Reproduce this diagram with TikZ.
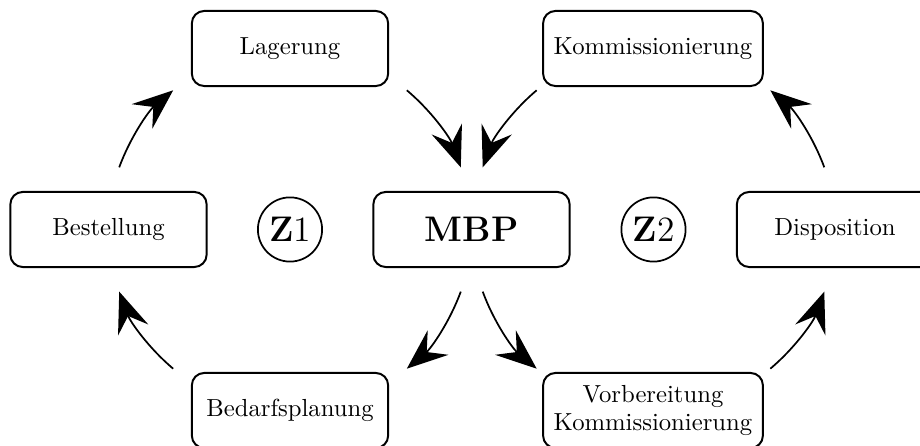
\documentclass[tikz,border=0pt]{standalone}
\usetikzlibrary{arrows.meta,calc}
\begin{document}
\begin{tikzpicture}[x=0.405pt,y=0.405pt,
  box/.style={draw,line width=0.8pt,rounded corners=5pt,minimum width=79.5pt,minimum height=30.4pt,inner xsep=4.3pt,align=center,font=\normalsize},
  zc/.style={draw,line width=0.7pt,circle,minimum size=26pt,inner sep=0pt,font=\Large},
  arr/.style={line width=0.7pt,-{Stealth[length=16.5pt,width=13pt,inset=6pt]}}]
\useasboundingbox (0,0) rectangle (920,446);
\clip (0,0) rectangle (920,446);
\node[box] (mbp) at (471.5,216.5) {\Large\textbf{MBP}};
\node[zc] (Z1) at (290,216.5) {\textbf{Z}1};
\node[zc] (Z2) at (653.5,216.5) {\textbf{Z}2};
\node[box] (best) at (108.5,216.5) {Bestellung};
\node[box] (disp) at (835,216.5) {Disposition};
\node[box] (lager) at (290,397.5) {Lagerung};
\node[box] (komm) at (653,397.5) {Kommissionierung};
\node[box] (bedarf) at (290,35.5) {Bedarfsplanung};
\node[box] (vorb) at (653,35.5) {Vorbereitung\\[-1pt]Kommissionierung};
% left loop (clockwise around Z1)
\draw[arr] ($(Z1)+(160:73.6pt)$) arc[start angle=160,end angle=130,radius=73.6pt];
\draw[arr] ($(Z1)+(50:73.6pt)$) arc[start angle=50,end angle=20,radius=73.6pt];
\draw[arr] ($(Z1)+(340:73.6pt)$) arc[start angle=340,end angle=310,radius=73.6pt];
\draw[arr] ($(Z1)+(230:73.6pt)$) arc[start angle=230,end angle=200,radius=73.6pt];
% right loop (counterclockwise around Z2)
\draw[arr] ($(Z2)+(130:73.6pt)$) arc[start angle=130,end angle=160,radius=73.6pt];
\draw[arr] ($(Z2)+(200:73.6pt)$) arc[start angle=200,end angle=230,radius=73.6pt];
\draw[arr] ($(Z2)+(310:73.6pt)$) arc[start angle=310,end angle=340,radius=73.6pt];
\draw[arr] ($(Z2)+(20:73.6pt)$) arc[start angle=20,end angle=50,radius=73.6pt];
\end{tikzpicture}
\end{document}
